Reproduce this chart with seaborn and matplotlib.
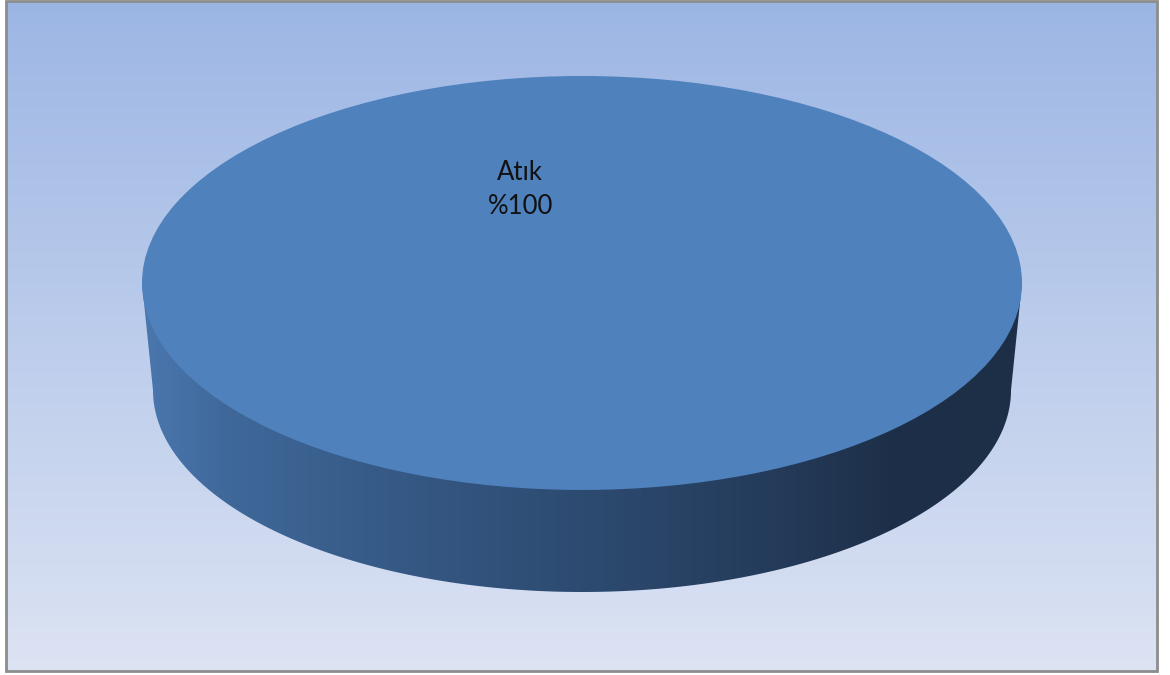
import numpy as np
import matplotlib
matplotlib.use("Agg")
import matplotlib.pyplot as plt
import seaborn as sns
from matplotlib.colors import LinearSegmentedColormap
from matplotlib.patches import Polygon, Rectangle

sns.set_theme(style="white")
plt.rcParams["font.family"] = ["Lato", "DejaVu Sans"]

# Data
labels = ["Atık"]
values = [100]

# Colours
face_color = "#4F81BD"
bg_top, bg_bottom = "#9CB6E4", "#DCE3F3"
side_stops = [(0.0, "#4A77AF"), (0.1, "#3F6899"), (0.3, "#355884"),
              (0.5, "#2D4B71"), (0.72, "#243B5A"), (0.85, "#1E3049"),
              (1.0, "#1D2F47")]

W, H = 1170, 675
fig = plt.figure(figsize=(W / 100, H / 100), dpi=100)
fig.patch.set_facecolor("white")

# Chart area background with vertical gradient and grey frame
bg = fig.add_axes([0, 0, 1, 1])
bg.set_xlim(0, W)
bg.set_ylim(H, 0)
bg.axis("off")
grad = np.linspace(0, 1, 256).reshape(-1, 1)
bg_cmap = LinearSegmentedColormap.from_list("bg", [bg_top, bg_bottom])
bg.imshow(grad, cmap=bg_cmap, extent=[6, 1157, 671, 1], aspect="auto",
          interpolation="bicubic")
bg.add_patch(Rectangle((6, 1), 1151, 670, fill=False, edgecolor="#8C8C8C",
                       linewidth=2))
bg.set_xlim(0, W)
bg.set_ylim(H, 0)

# Pie axes: ellipse top face plus a cylinder-like side
depth = 0.518      # side depth in units of the vertical radius
shrink = 0.975     # slight perspective narrowing of the bottom rim
y_low = -depth - shrink
left_px, right_px, top_px, bottom_px = 142, 1022, 76, 592
ax = fig.add_axes([left_px / W, (H - bottom_px) / H,
                   (right_px - left_px) / W, (bottom_px - top_px) / H])
ax.set_facecolor("none")

# Side wall
t = np.linspace(np.pi, 2 * np.pi, 300)
rim = np.column_stack([shrink * np.cos(t), -depth + shrink * np.sin(t)])
side_pts = np.vstack([[[-1, 0]], rim, [[1, 0]]])
side_patch = Polygon(side_pts, closed=True, facecolor="none", edgecolor="none")
ax.add_patch(side_patch)
pos = [p for p, _ in side_stops]
cols = [c for _, c in side_stops]
side_cmap = LinearSegmentedColormap.from_list("side", list(zip(pos, cols)))
hgrad = np.linspace(0, 1, 512).reshape(1, -1)
im = ax.imshow(hgrad, cmap=side_cmap, extent=[-1, 1, y_low, 0],
               aspect="auto", interpolation="bicubic", zorder=1)
im.set_clip_path(side_patch)

# Top face (the pie itself)
label_angle = np.degrees(np.arctan2(0.45, -0.14))
label_r = np.hypot(0.14, 0.45)
total = sum(values)
wedges, texts = ax.pie(
    values, colors=[face_color], startangle=label_angle - 180,
    radius=1, center=(0, 0), labels=None,
    wedgeprops=dict(linewidth=0, zorder=2), normalize=True,
)[:2]
for w, lab, v in zip(wedges, labels, values):
    theta = np.radians((w.theta1 + w.theta2) / 2)
    ax.text(label_r * np.cos(theta), label_r * np.sin(theta),
            f"{lab}\n%{v / total * 100:.0f}", ha="center", va="center",
            fontsize=18.5, color="#111111", linespacing=1.45, zorder=3)

ax.set_aspect("auto")
ax.set_xlim(-1, 1)
ax.set_ylim(y_low, 1)
ax.axis("off")

fig.savefig("out.png", dpi=100, facecolor=fig.get_facecolor())
